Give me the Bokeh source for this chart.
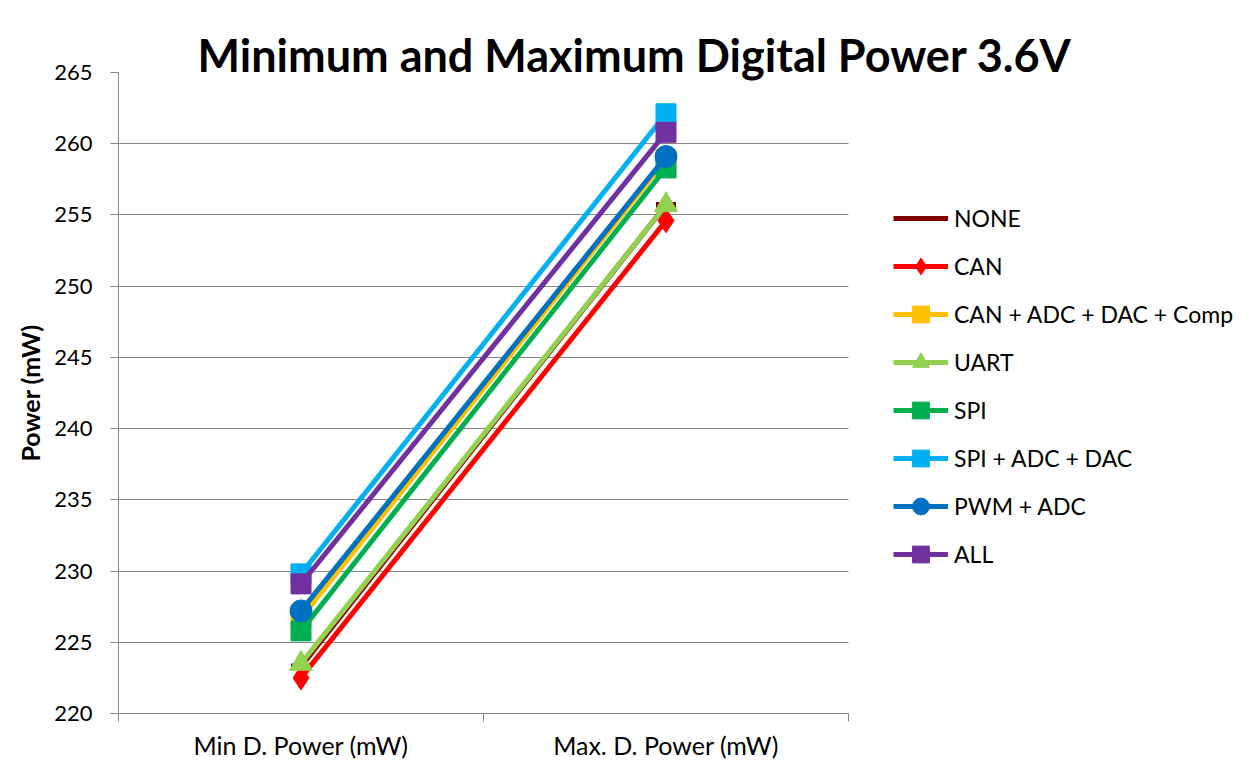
from bokeh.plotting import figure
from bokeh.models import (Legend, LegendItem, FixedTicker, Range1d, Title)
from bokeh.embed import file_html
from bokeh.resources import INLINE

categories = ["Min D. Power (mW)", "Max. D. Power (mW)"]
series_names = ["NONE", "CAN", "CAN + ADC + DAC + Comp", "UART", "SPI",
                "SPI + ADC + DAC", "PWM + ADC", "ALL"]
none_vals = [223.3, 255.7]
can_vals = [222.5, 254.6]
can_adc_dac_comp_vals = [226.7, 258.9]
uart_vals = [223.5, 255.7]
spi_vals = [225.8, 258.3]
spi_adc_dac_vals = [229.8, 262.1]
pwm_adc_vals = [227.2, 259.1]
all_vals = [229.1, 260.8]
y_ticks = [220, 225, 230, 235, 240, 245, 250, 255, 260, 265]

series_values = [none_vals, can_vals, can_adc_dac_comp_vals, uart_vals, spi_vals,
                 spi_adc_dac_vals, pwm_adc_vals, all_vals]
colors = ["#7f0000", "#ff0000", "#ffc000", "#92d050", "#00b050",
          "#00b0f0", "#0070c0", "#7030a0"]
markers = ["dash", "diamond", "square", "triangle", "square",
           "square", "circle", "square"]
sizes = [20, 24, 20, 23, 20, 20, 22, 20]

n_cat = len(categories)
x_pos = [i + 0.5 for i in range(n_cat)]

W, H = 1245, 764
LEFT, PLOT_W = 118, 730          # plotting area (categories) width in px
x_end = n_cat * (W - LEFT) / PLOT_W  # frame extends right to host the legend

p = figure(width=W, height=H, output_backend="svg", toolbar_location=None,
           x_range=Range1d(0, x_end), y_range=Range1d(220, 265),
           min_border_left=LEFT, min_border_right=0,
           min_border_top=72, min_border_bottom=H - 713)
p.outline_line_color = None
p.background_fill_color = "white"
p.border_fill_color = "white"

# axes
p.xaxis.bounds = (0, n_cat)
p.xaxis.ticker = FixedTicker(ticks=x_pos, minor_ticks=list(range(n_cat + 1)))
p.xaxis.major_label_overrides = {x: c for x, c in zip(x_pos, categories)}
p.xaxis.major_tick_line_color = None
p.xaxis.minor_tick_in = 0
p.xaxis.minor_tick_out = 8
p.xaxis.minor_tick_line_color = "#868686"
p.xaxis.axis_line_color = "#868686"
p.xaxis.axis_line_width = 1
p.xaxis.major_label_text_font = "Lato"
p.xaxis.major_label_text_font_size = "25px"
p.xaxis.major_label_text_color = "#000000"
p.xaxis.major_label_standoff = 8

p.yaxis.ticker = FixedTicker(ticks=y_ticks)
p.yaxis.minor_tick_line_color = None
p.yaxis.major_tick_in = 0
p.yaxis.major_tick_out = 8
p.yaxis.major_tick_line_color = "#868686"
p.yaxis.axis_line_color = "#868686"
p.yaxis.major_label_text_font = "Lato"
p.yaxis.major_label_text_font_size = "22px"
p.yaxis.major_label_text_color = "#000000"
p.yaxis.major_label_standoff = 18
p.yaxis.axis_label = "Power (mW)"
p.yaxis.axis_label_text_font = "Lato"
p.yaxis.axis_label_text_font_style = "bold"
p.yaxis.axis_label_text_font_size = "25px"
p.yaxis.axis_label_text_color = "#000000"
p.yaxis.axis_label_standoff = 6

p.xgrid.grid_line_color = None
p.ygrid.ticker = FixedTicker(ticks=y_ticks)
p.ygrid.cross_bounds = (0, n_cat)
p.ygrid.grid_line_color = "#868686"
p.ygrid.grid_line_width = 1

items = []
for name, vals, col, mk, sz in zip(series_names, series_values, colors, markers, sizes):
    r_line = p.line(x_pos, vals, line_color=col, line_width=5)
    if mk == "dash":
        r_m = p.scatter(x_pos, vals, marker="dash", size=sz, line_color=col, line_width=6)
        items.append(LegendItem(label=name, renderers=[r_line]))
    else:
        r_m = p.scatter(x_pos, vals, marker=mk, size=sz, fill_color=col, line_color=col)
        items.append(LegendItem(label=name, renderers=[r_line, r_m]))

legend = Legend(items=items, location=(PLOT_W + 45, 138), orientation="vertical")
legend.background_fill_alpha = 0
legend.border_line_color = None
legend.margin = 0
legend.padding = 0
legend.glyph_width = 55
legend.glyph_height = 42
legend.label_height = 20
legend.spacing = 6
legend.label_standoff = 6
legend.label_text_font = "Lato"
legend.label_text_font_size = "23px"
legend.label_text_color = "#000000"
legend.label_text_baseline = "middle"
p.add_layout(legend, "center")

title = Title(text="Minimum and Maximum Digital Power 3.6V", align="left", offset=79,
              standoff=-18, vertical_align="bottom",
              text_font="Lato", text_font_style="bold", text_font_size="45px",
              text_color="#000000")
p.add_layout(title, "above")

open("out.html", "w").write(file_html(p, INLINE))
